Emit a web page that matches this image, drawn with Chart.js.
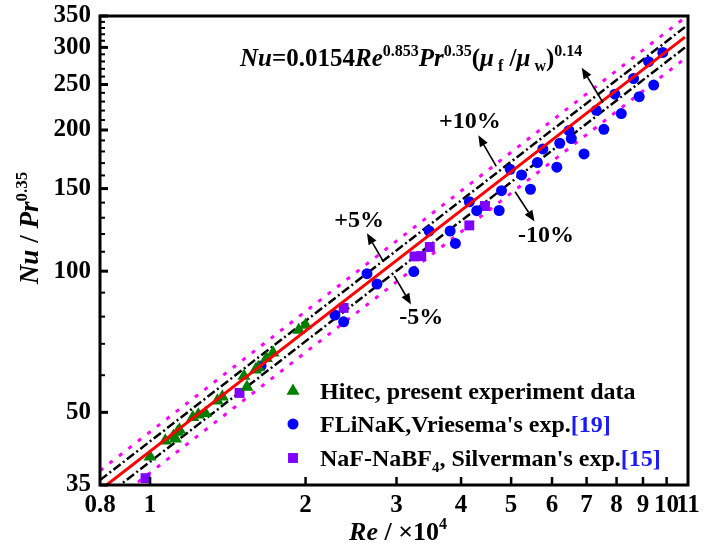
<!DOCTYPE html>
<html>
<head>
<meta charset="utf-8">
<style>
  html, body { margin: 0; padding: 0; background: #fff; }
  #wrap { width: 709px; height: 548px; }
</style>
<script src="https://cdn.jsdelivr.net/npm/chart.js@4.4.1/dist/chart.umd.min.js"></script>
</head>
<body>
<div id="wrap"><canvas id="c" width="709" height="548"></canvas></div>
<script>
// Hitec, present experiment (Re in units of 10^4, Nu/Pr^0.35)
const hitecRe = [1.00, 1.07, 1.11, 1.12, 1.13, 1.14, 1.21, 1.24, 1.28, 1.35, 1.38, 1.52, 1.54, 1.60, 1.62, 1.68, 1.73, 1.94, 2.00];
const hitecNu = [40.2, 43.5, 44.5, 43.9, 45.4, 45.9, 48.8, 49.4, 49.8, 52.9, 54.0, 59.8, 56.6, 61.6, 62.4, 65.2, 67.0, 74.9, 76.8];

// FLiNaK, Vriesema
const flinakRe = [1.64, 2.28, 2.37, 2.63, 2.75, 3.24, 3.47, 3.81, 3.90, 4.15, 4.29, 4.74, 4.79, 4.98, 5.24, 5.45,
                  5.62, 5.76, 6.13, 6.21, 6.47, 6.54, 6.92, 7.31, 7.56, 7.94, 8.17, 8.63, 8.85, 9.23, 9.44, 9.83];
const flinakNu = [62.8, 80.6, 78.0, 98.8, 93.9, 99.8, 121.8, 121.8, 114.6, 140.6, 134.6, 134.7, 148.5, 164.9, 160.4, 149.5,
                  170.4, 182.2, 166.6, 187.4, 199.5, 191.8, 177.8, 220.3, 200.7, 238.4, 216.8, 257.5, 235.5, 279.7, 249.4, 292.6];

// NaF-NaBF4, Silverman
const nafRe = [0.98, 1.49, 2.37, 3.25, 3.35, 3.48, 4.15, 4.45];
const nafNu = [36.2, 55.0, 83.5, 107.5, 107.7, 112.6, 125.2, 137.7];

// Correlation Nu = 0.0154 Re^0.853 Pr^0.35 (mu_f/mu_w)^0.14
const corrCoef = 0.0154;
const corrExp = 0.853;
const muRatio = 1.31;
const fitRe = [0.8, 10.85];
const bandFractions = [0.05, 0.10];

// Axis ticks
const xTickLabels = [0.8, 1, 2, 3, 4, 5, 6, 7, 8, 9, 10, 11];
const xTickMarks = [1, 2, 3, 4, 5, 6, 7, 8, 9, 10];
const yMajor = [35, 50, 100, 150, 200, 250, 300, 350];
const yMinor = [60, 70, 80, 90, 110, 120, 130, 140, 160, 170, 180, 190, 210, 220, 230, 240, 260, 270, 280, 290, 310, 320, 330, 340];

// Deviation arrows [Re, Nu] from -> to, and their labels
const arrowFrom = [[7.53, 228.9], [4.68, 167.2], [5.09, 147.7], [2.83, 104.8], [2.97, 97.7]];
const arrowTo   = [[6.85, 271.5], [4.32, 194.8], [5.55, 127.6], [2.63, 120.4], [3.20, 84.9]];
const devLabels = ['+10%', '-10%', '+5%', '-5%'];
const devLabelPos = [[4.16, 208], [5.84, 118.9], [2.54, 127.9], [3.35, 79.5]];

const FAM = "'Liberation Serif','Times New Roman',serif";

function corr(re) {
  return corrCoef * Math.pow(re * 1e4, corrExp) * Math.pow(muRatio, 0.14);
}
function pts(xs, ys) { return xs.map((v, i) => ({ x: v, y: ys[i] })); }
function linePts(scale) { return fitRe.map(r => ({ x: r, y: corr(r) * scale })); }

function fontOf(r) { return (r.i ? 'italic ' : '') + 'bold ' + r.s + 'px ' + FAM; }
function runsWidth(ctx, runs) {
  let w = 0;
  runs.forEach(r => { ctx.font = fontOf(r); r.w = ctx.measureText(r.t).width; w += r.w; });
  return w;
}
function drawRuns(ctx, runs, x, y, align) {
  const total = runsWidth(ctx, runs);
  let cx = align === 'center' ? x - total / 2 : x;
  ctx.textBaseline = 'alphabetic';
  ctx.textAlign = 'left';
  runs.forEach(r => {
    ctx.font = fontOf(r);
    ctx.fillStyle = r.c || '#000';
    ctx.fillText(r.t, cx, y + (r.dy || 0));
    cx += r.w;
  });
}
function seg(ctx, x1, y1, x2, y2, w) {
  ctx.lineWidth = w;
  ctx.beginPath(); ctx.moveTo(x1, y1); ctx.lineTo(x2, y2); ctx.stroke();
}
function arrow(ctx, x1, y1, x2, y2) {
  const a = Math.atan2(y2 - y1, x2 - x1), L = 11, W = 4.5;
  const bx = x2 - L * Math.cos(a), by = y2 - L * Math.sin(a);
  ctx.strokeStyle = '#000'; ctx.fillStyle = '#000';
  seg(ctx, x1, y1, bx, by, 1.6);
  ctx.beginPath();
  ctx.moveTo(x2, y2);
  ctx.lineTo(bx + W * Math.sin(a), by - W * Math.cos(a));
  ctx.lineTo(bx - W * Math.sin(a), by + W * Math.cos(a));
  ctx.closePath(); ctx.fill();
}
function marker(ctx, style, r, x, y, color) {
  ctx.fillStyle = color;
  ctx.beginPath();
  if (style === 'triangle') {
    for (let k = 0; k < 3; k++) {
      const ang = k * 2 * Math.PI / 3;
      const px = x + Math.sin(ang) * r, py = y - Math.cos(ang) * r;
      k ? ctx.lineTo(px, py) : ctx.moveTo(px, py);
    }
    ctx.closePath();
  } else if (style === 'rect') {
    const s = Math.SQRT1_2 * r;
    ctx.rect(x - s, y - s, 2 * s, 2 * s);
  } else {
    ctx.arc(x, y, r, 0, Math.PI * 2);
  }
  ctx.fill();
}

const legendItems = [
  { style: 'triangle', r: 7.5, color: '#008000', runs: [{ t: 'Hitec, present experiment data', s: 24 }] },
  { style: 'circle', r: 5.5, color: '#0000ff', runs: [{ t: "FLiNaK,Vriesema's exp.", s: 24 }, { t: '[19]', s: 24, c: '#1a1aff' }] },
  { style: 'rect', r: 7, color: '#8000ff', runs: [{ t: 'NaF-NaBF', s: 24 }, { t: '4', s: 15, dy: 6 }, { t: ", Silverman's exp.", s: 24 }, { t: '[15]', s: 24, c: '#1a1aff' }] }
];
const legendRowY = [391, 424, 458];

const decor = {
  id: 'decor',
  afterDraw(chart) {
    const { ctx, chartArea: a, scales: { x, y } } = chart;
    ctx.save();
    ctx.strokeStyle = '#000';
    ctx.lineCap = 'butt';
    ctx.setLineDash([]);

    // inward tick marks
    yMajor.forEach(v => { const p = y.getPixelForValue(v); seg(ctx, a.left, p, a.left + 8, p, 3); });
    yMinor.forEach(v => { const p = y.getPixelForValue(v); seg(ctx, a.left, p, a.left + 5, p, 2); });
    xTickMarks.forEach(v => { const p = x.getPixelForValue(v); seg(ctx, p, a.bottom, p, a.bottom - 8, 2.5); });

    // frame
    ctx.lineWidth = 3;
    ctx.strokeRect(a.left, a.top, a.right - a.left, a.bottom - a.top);

    // deviation arrows and labels
    arrowFrom.forEach((f, i) => {
      const t = arrowTo[i];
      arrow(ctx, x.getPixelForValue(f[0]), y.getPixelForValue(f[1]), x.getPixelForValue(t[0]), y.getPixelForValue(t[1]));
    });
    ctx.textAlign = 'center'; ctx.textBaseline = 'middle'; ctx.fillStyle = '#000';
    ctx.font = 'bold 24px ' + FAM;
    devLabels.forEach((s, i) => {
      ctx.fillText(s, x.getPixelForValue(devLabelPos[i][0]), y.getPixelForValue(devLabelPos[i][1]));
    });

    // correlation
    drawRuns(ctx, [
      { t: 'Nu', s: 25, i: true }, { t: '=0.0154', s: 25 }, { t: 'Re', s: 25, i: true },
      { t: '0.853', s: 16, dy: -10 }, { t: 'Pr', s: 25, i: true }, { t: '0.35', s: 16, dy: -10 },
      { t: '(', s: 25 }, { t: 'μ', s: 25, i: true }, { t: ' f', s: 16, dy: 5 }, { t: ' /', s: 25 },
      { t: 'μ', s: 25, i: true }, { t: ' w', s: 16, dy: 5 }, { t: ')', s: 25 }, { t: '0.14', s: 16, dy: -10 }
    ], 240, 66, 'left');

    // axis titles
    drawRuns(ctx, [
      { t: 'Re', s: 26, i: true }, { t: ' / ×10', s: 26 }, { t: '4', s: 16, dy: -11 }
    ], (a.left + a.right) / 2 + 4, 540, 'center');
    ctx.save();
    ctx.translate(38, 228);
    ctx.rotate(-Math.PI / 2);
    drawRuns(ctx, [
      { t: 'Nu', s: 27, i: true }, { t: ' / ', s: 27 }, { t: 'Pr', s: 27, i: true }, { t: '0.35', s: 17, dy: -11 }
    ], 0, 0, 'center');
    ctx.restore();

    // legend
    legendItems.forEach((it, i) => {
      const ly = legendRowY[i];
      marker(ctx, it.style, it.r, 293, ly, it.color);
      drawRuns(ctx, it.runs, 320, ly + 8, 'left');
    });
    ctx.restore();
  }
};

const dashLine = (scale, color, dash, width) => ({
  type: 'line', data: linePts(scale), borderColor: color, borderWidth: width, borderDash: dash,
  pointRadius: 0, fill: false, tension: 0, order: 2, borderCapStyle: 'butt'
});

function noScalePadding(s) {
  s.paddingTop = 0; s.paddingBottom = 0; s.paddingLeft = 0; s.paddingRight = 0;
}

new Chart(document.getElementById('c'), {
  type: 'scatter',
  data: {
    datasets: [
      { label: 'Hitec, present experiment data', data: pts(hitecRe, hitecNu), pointStyle: 'triangle',
        pointRadius: 7.5, pointBackgroundColor: '#008000', pointBorderWidth: 0, order: 1 },
      { label: "FLiNaK,Vriesema's exp.[19]", data: pts(flinakRe, flinakNu), pointStyle: 'circle',
        pointRadius: 5.5, pointBackgroundColor: '#0000ff', pointBorderWidth: 0, order: 1 },
      { label: "NaF-NaBF4, Silverman's exp.[15]", data: pts(nafRe, nafNu), pointStyle: 'rect',
        pointRadius: 7, pointBackgroundColor: '#8000ff', pointBorderWidth: 0, order: 1 },
      dashLine(1 + bandFractions[1], '#ff00ff', [4, 8], 3),
      dashLine(1 - bandFractions[1], '#ff00ff', [4, 8], 3),
      dashLine(1 + bandFractions[0], '#000000', [9, 3, 2, 3], 2.5),
      dashLine(1 - bandFractions[0], '#000000', [9, 3, 2, 3], 2.5),
      { type: 'line', data: linePts(1), borderColor: '#ff0000', borderWidth: 3, pointRadius: 0,
        fill: false, tension: 0, order: 0 }
    ]
  },
  options: {
    responsive: false,
    animation: false,
    devicePixelRatio: 1,
    layout: { padding: { left: 0, right: 21, top: 16, bottom: 0 } },
    plugins: { legend: { display: false }, tooltip: { enabled: false } },
    scales: {
      x: {
        type: 'logarithmic', min: 0.8, max: 11, position: 'bottom',
        grid: { display: false, drawTicks: false }, border: { display: false },
        afterBuildTicks: s => { s.ticks = xTickLabels.map(v => ({ value: v })); },
        afterFit: s => { s.height = 63; noScalePadding(s); },
        ticks: { autoSkip: false, maxRotation: 0, padding: 6, color: '#000',
                 font: { family: FAM, size: 25, weight: 'bold' }, callback: v => String(v) }
      },
      y: {
        type: 'logarithmic', min: 35, max: 350, position: 'left',
        grid: { display: false, drawTicks: false }, border: { display: false },
        afterBuildTicks: s => { s.ticks = yMajor.map(v => ({ value: v })); },
        afterFit: s => { s.width = 100; noScalePadding(s); },
        ticks: { autoSkip: false, padding: 9, color: '#000',
                 font: { family: FAM, size: 25, weight: 'bold' }, callback: v => String(v) }
      }
    }
  },
  plugins: [decor]
});
</script>
</body>
</html>
